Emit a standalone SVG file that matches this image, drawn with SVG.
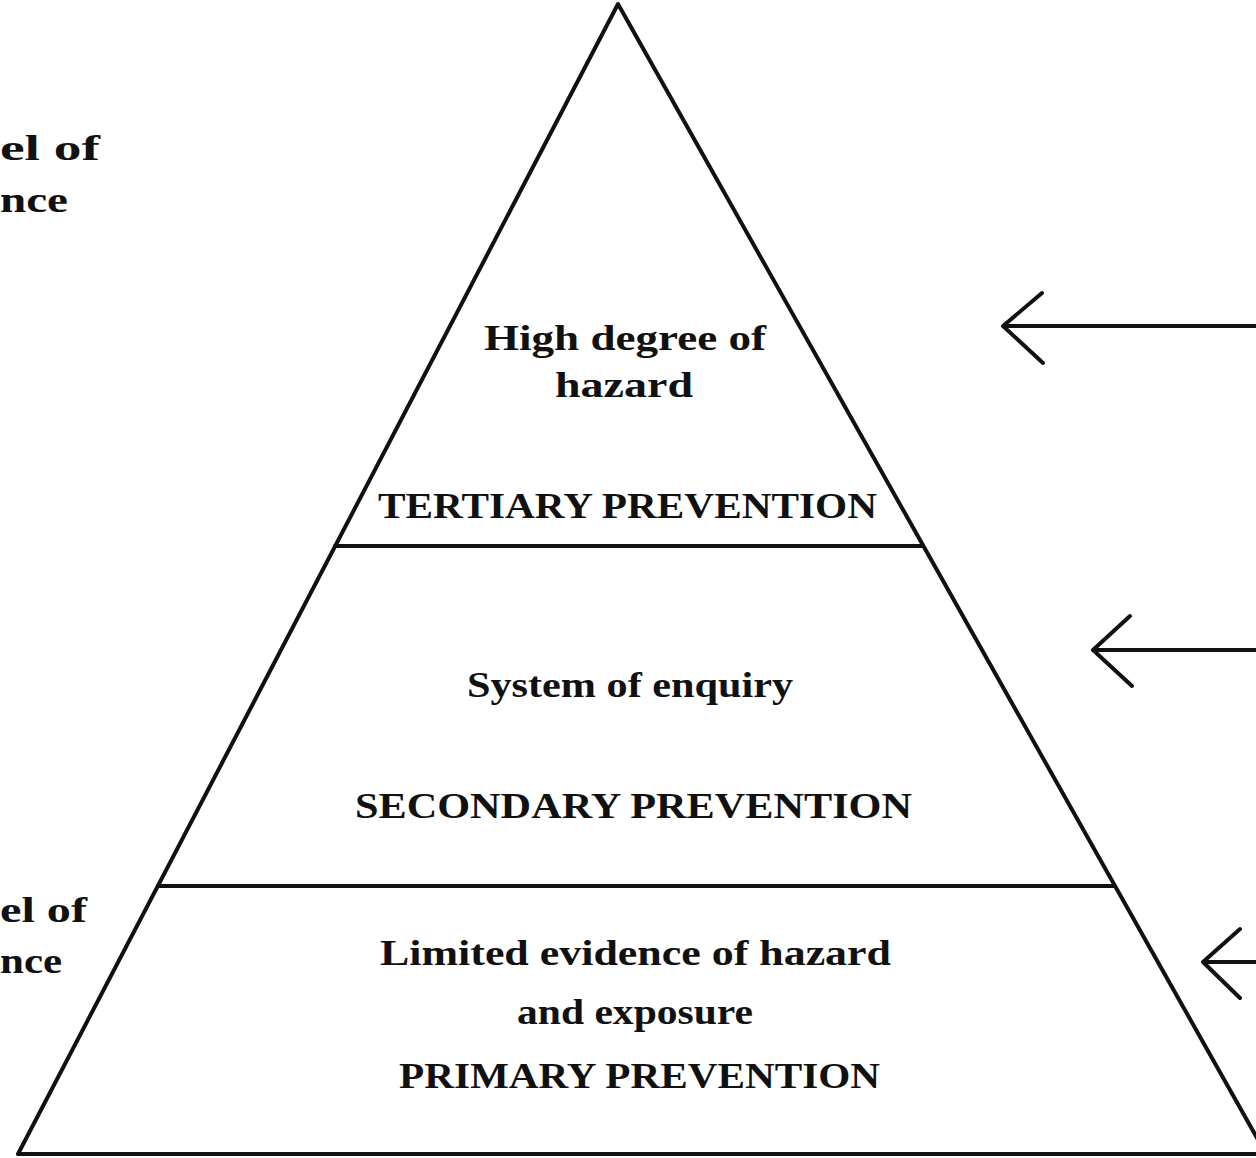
<svg xmlns="http://www.w3.org/2000/svg" width="1256" height="1158" viewBox="0 0 1256 1158">
  <style>
    .ln { stroke: #111; stroke-width: 4; fill: none; stroke-linecap: round; stroke-linejoin: round; }
    .t { font-family: "Liberation Serif", "Times New Roman", serif; font-weight: bold; font-size: 36px; fill: #111; }
    .c { text-anchor: middle; }
  </style>
  <rect width="1256" height="1158" fill="#fff"/>
  <g id="pyramid">
    <polyline class="ln" points="1270,1161 618,4 18,1154 1270,1154"/>
    <line class="ln" x1="335" y1="546" x2="923" y2="546"/>
    <line class="ln" x1="158" y1="886" x2="1114" y2="886"/>
  </g>
  <g id="label-top-left">
    <text class="t" x="0" y="160" textLength="100" lengthAdjust="spacingAndGlyphs">el of</text>
    <text class="t" x="0" y="212" textLength="68" lengthAdjust="spacingAndGlyphs">nce</text>
  </g>
  <g id="label-bottom-left">
    <text class="t" x="0" y="922" textLength="87" lengthAdjust="spacingAndGlyphs">el of</text>
    <text class="t" x="0" y="973" textLength="62" lengthAdjust="spacingAndGlyphs">nce</text>
  </g>
  <g id="tertiary">
    <text class="t" x="484" y="350" textLength="282" lengthAdjust="spacingAndGlyphs">High degree of</text>
    <text class="t" x="555" y="397" textLength="138" lengthAdjust="spacingAndGlyphs">hazard</text>
    <text class="t" x="378" y="518" textLength="499" lengthAdjust="spacingAndGlyphs">TERTIARY PREVENTION</text>
  </g>
  <g id="secondary">
    <text class="t" x="467" y="697" textLength="326" lengthAdjust="spacingAndGlyphs">System of enquiry</text>
    <text class="t" x="355" y="818" textLength="557" lengthAdjust="spacingAndGlyphs">SECONDARY PREVENTION</text>
  </g>
  <g id="primary">
    <text class="t" x="380" y="965" textLength="511" lengthAdjust="spacingAndGlyphs">Limited evidence of hazard</text>
    <text class="t" x="517" y="1024" textLength="236" lengthAdjust="spacingAndGlyphs">and exposure</text>
    <text class="t" x="399" y="1088" textLength="481" lengthAdjust="spacingAndGlyphs">PRIMARY PREVENTION</text>
  </g>
  <g id="connectors">
    <path class="ln" d="M1260,326 L1003,326 M1042,293 L1003,326 L1043,363"/>
    <path class="ln" d="M1260,650 L1093,650 M1130,616 L1093,650 L1132,686"/>
    <path class="ln" d="M1260,962 L1203,962 M1240,929 L1203,962 L1240,998"/>
  </g>
</svg>
